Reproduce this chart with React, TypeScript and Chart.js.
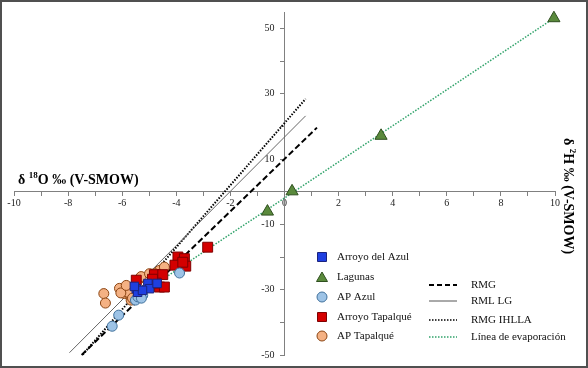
import React, { useEffect, useRef } from 'react';
import { Chart, registerables } from 'chart.js';
Chart.register(...registerables);

// ---- Data (δ18O, δ2H) ----
const arroyoAzulO18 = [-5.48, -5.05, -4.99, -4.71, -5.43, -5.25, -5.55];
const arroyoAzulH2 = [-29.7, -28.1, -29.7, -28.1, -30.8, -30.2, -29.0];

const lagunasO18 = [9.96, 3.57, 0.28, -0.63];
const lagunasH2 = [53.1, 17.1, 0.1, -6.1];

const apAzulO18 = [-6.37, -6.13, -5.51, -5.42, -5.24, -5.29, -3.88];
const apAzulH2 = [-41.2, -37.8, -33.2, -32.2, -31.7, -32.6, -24.9];

const arroyoTapO18 = [-2.84, -3.94, -3.70, -4.05, -3.65, -3.76, -4.81, -4.50, -5.48, -4.62, -4.74, -4.44, -4.88];
const arroyoTapH2 = [-17.0, -20.0, -20.5, -22.5, -22.8, -21.6, -25.4, -25.4, -27.1, -29.2, -28.0, -29.2, -26.8];

const apTapO18 = [-6.68, -6.62, -5.98, -5.85, -5.92, -5.73, -5.67, -6.10, -5.79, -5.36, -5.30, -4.99, -4.62, -4.44, -4.80, -5.62, -6.05, -5.85];
const apTapH2 = [-31.2, -34.1, -30.2, -29.2, -31.2, -31.7, -33.2, -29.6, -30.8, -26.6, -26.0, -25.1, -24.1, -23.1, -25.1, -32.6, -31.0, -28.7];

// Reference lines (end points)
const rmgO18 = [-7.5, 1.2];
const rmgH2 = [-50, 19.6];
const rmlO18 = [-7.95, 0.78];
const rmlH2 = [-49.3, 23.2];
const ihllaO18 = [-7.46, 0.78];
const ihllaH2 = [-49.9, 28.4];
const evapO18 = [-4.3, 9.96];
const evapH2 = [-25.7, 53.1];

const xMin = -10, xMax = 10, yMin = -50, yMax = 55;

const pointSeries = ['Arroyo del Azul', 'Lagunas', 'AP Azul', 'Arroyo Tapalqué', 'AP Tapalqué'];
const lineSeries = ['RMG', 'RML LG', 'RMG IHLLA', 'Línea de evaporación'];

const FONT = "'Liberation Serif', 'Times New Roman', serif";

const C = {
  blue: '#1f3fe0', blueB: '#1a237e',
  green: '#5a8a3c', greenB: '#2f4f1f',
  lblue: '#9dc3e6', lblueB: '#41719c',
  red: '#d40000', redB: '#7f0000',
  orange: '#f4b183', orangeB: '#8b4513',
  evap: '#31a36b',
};

const pts = (xs: number[], ys: number[]) => xs.map((x, i) => ({ x, y: ys[i] }));

const decorPlugin = {
  id: 'decor',
  afterDraw(chart: any) {
    const ctx = chart.ctx as CanvasRenderingContext2D;
    ctx.save();
    // frame
    ctx.strokeStyle = '#505050';
    ctx.lineWidth = 2;
    ctx.strokeRect(1, 1, 586, 366);

    ctx.fillStyle = '#000';
    ctx.textBaseline = 'middle';
    ctx.textAlign = 'left';
    const drawTitle = (x: number, y: number, sup: string, letter: string) => {
      let cx = x;
      ctx.font = `bold 14px ${FONT}`;
      ctx.fillText('δ ', cx, y);
      cx += ctx.measureText('δ ').width;
      ctx.font = `bold 9px ${FONT}`;
      ctx.fillText(sup, cx, y - 4);
      cx += ctx.measureText(sup).width;
      ctx.font = `bold 14px ${FONT}`;
      ctx.fillText(letter + ' ‰ (V-SMOW)', cx, y);
    };
    // x axis title
    drawTitle(18, 180, '18', 'O');

    // y axis title (rotated clockwise)
    ctx.save();
    ctx.translate(568, 138);
    ctx.rotate(Math.PI / 2);
    drawTitle(0, 0, '2', 'H');
    ctx.restore();

    // legend left column
    const left = [
      { y: 257, type: 'rect', f: C.blue, s: C.blueB },
      { y: 277, type: 'tri', f: C.green, s: C.greenB },
      { y: 297, type: 'circ', f: C.lblue, s: C.lblueB },
      { y: 317, type: 'rect', f: C.red, s: C.redB },
      { y: 336, type: 'circ', f: C.orange, s: C.orangeB },
    ];
    left.forEach((it, i) => {
      const mx = 322;
      ctx.fillStyle = it.f;
      ctx.strokeStyle = it.s;
      ctx.lineWidth = 1;
      ctx.beginPath();
      if (it.type === 'rect') ctx.rect(mx - 4.5, it.y - 4.5, 9, 9);
      else if (it.type === 'circ') ctx.arc(mx, it.y, 5, 0, Math.PI * 2);
      else { ctx.moveTo(mx, it.y - 5); ctx.lineTo(mx + 5.5, it.y + 4.5); ctx.lineTo(mx - 5.5, it.y + 4.5); ctx.closePath(); }
      ctx.fill();
      ctx.stroke();
      ctx.fillStyle = '#111';
      ctx.font = `11px ${FONT}`;
      ctx.fillText(pointSeries[i], 337, it.y);
    });

    // legend right column
    const right = [
      { y: 285, color: '#000', w: 2, dash: [5, 3] },
      { y: 301, color: '#555', w: 1, dash: [] as number[] },
      { y: 320, color: '#000', w: 1.5, dash: [1.5, 1.5] },
      { y: 337, color: C.evap, w: 1.5, dash: [1.5, 1.5] },
    ];
    right.forEach((it, i) => {
      ctx.strokeStyle = it.color;
      ctx.lineWidth = it.w;
      ctx.setLineDash(it.dash);
      ctx.beginPath();
      ctx.moveTo(429, it.y);
      ctx.lineTo(457, it.y);
      ctx.stroke();
      ctx.setLineDash([]);
      ctx.fillStyle = '#111';
      ctx.font = `11px ${FONT}`;
      ctx.fillText(lineSeries[i], 471, it.y);
    });
    ctx.restore();
  },
};

export default function App() {
  const ref = useRef<HTMLCanvasElement>(null);
  useEffect(() => {
    if (!ref.current) return;
    const lineDs = (label: string, xs: number[], ys: number[], color: string, w: number, dash: number[]) => ({
      label, data: pts(xs, ys), showLine: true, borderColor: color, borderWidth: w, borderDash: dash,
      pointRadius: 0, fill: false, order: 10, clip: false,
    });
    const chart = new Chart(ref.current, {
      type: 'scatter',
      data: {
        datasets: [
          { label: pointSeries[0], data: pts(arroyoAzulO18, arroyoAzulH2), pointStyle: 'rect', pointRadius: 6, backgroundColor: C.blue, borderColor: C.blueB, borderWidth: 1, order: 1, clip: false },
          { label: pointSeries[1], data: pts(lagunasO18, lagunasH2), pointStyle: 'triangle', pointRadius: 7, backgroundColor: C.green, borderColor: C.greenB, borderWidth: 1, order: 2, clip: false },
          { label: pointSeries[2], data: pts(apAzulO18, apAzulH2), pointStyle: 'circle', pointRadius: 5, backgroundColor: C.lblue, borderColor: C.lblueB, borderWidth: 1, order: 3, clip: false },
          { label: pointSeries[3], data: pts(arroyoTapO18, arroyoTapH2), pointStyle: 'rect', pointRadius: 7, backgroundColor: C.red, borderColor: C.redB, borderWidth: 1, order: 4, clip: false },
          { label: pointSeries[4], data: pts(apTapO18, apTapH2), pointStyle: 'circle', pointRadius: 5, backgroundColor: C.orange, borderColor: C.orangeB, borderWidth: 1, order: 5, clip: false },
          lineDs(lineSeries[0], rmgO18, rmgH2, '#000', 2, [6, 3]),
          lineDs(lineSeries[1], rmlO18, rmlH2, '#666', 1, []),
          lineDs(lineSeries[2], ihllaO18, ihllaH2, '#000', 2, [1.5, 1.5]),
          lineDs(lineSeries[3], evapO18, evapH2, C.evap, 1.5, [1.5, 1.5]),
        ] as any,
      },
      options: {
        responsive: false,
        animation: false,
        layout: { padding: { left: 14, right: 33, top: 10, bottom: 13 } },
        plugins: { legend: { display: false }, tooltip: { enabled: false } },
        scales: {
          x: {
            type: 'linear',
            position: { y: 0 } as any,
            min: xMin, max: xMax,
            grid: { drawOnChartArea: false, drawTicks: true, tickLength: 4, color: '#808080' },
            border: { color: '#808080', width: 1 },
            ticks: {
              stepSize: 1, autoSkip: false, maxRotation: 0, padding: 2,
              color: '#222', font: { family: FONT, size: 10 },
              callback: (v: any) => (Math.round(v) % 2 === 0 ? String(v) : ''),
            },
          },
          y: {
            type: 'linear',
            position: 'center',
            min: yMin, max: yMax,
            afterBuildTicks: (scale: any) => {
              scale.ticks = scale.ticks.filter((t: any) => t.value % 10 === 0);
            },
            grid: { drawOnChartArea: false, drawTicks: true, tickLength: 4, color: '#808080' },
            border: { color: '#808080', width: 1 },
            ticks: {
              stepSize: 10, autoSkip: false, padding: 6,
              color: '#222', font: { family: FONT, size: 10 },
              callback: (v: any) => ((Math.round(v) + 50) % 20 === 0 ? String(v) : ''),
            },
          },
        },
      } as any,
      plugins: [decorPlugin],
    });
    return () => chart.destroy();
  }, []);
  return (
    <div style={{ position: 'fixed', left: 0, top: 0, width: 588, height: 368, background: '#fff' }}>
      <canvas ref={ref} width={588} height={368} style={{ display: 'block' }} />
    </div>
  );
}
